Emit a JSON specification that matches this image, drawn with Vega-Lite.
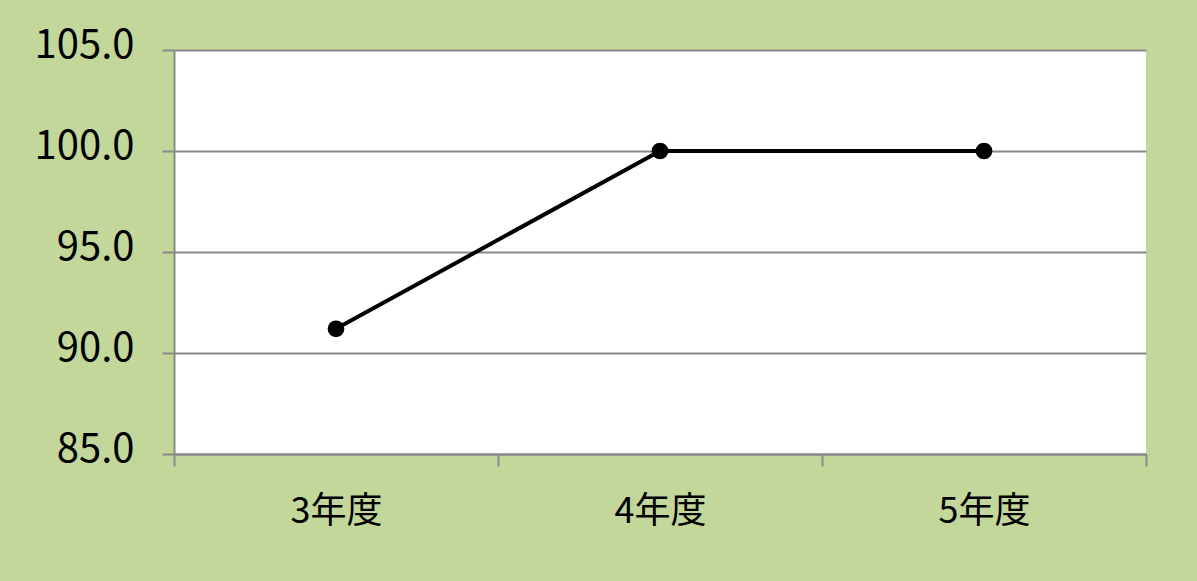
{
  "$schema": "https://vega.github.io/schema/vega-lite/v6.json",
  "autosize": "none",
  "width": 972,
  "height": 404,
  "padding": {"left": 174, "top": 50, "right": 51, "bottom": 127},
  "background": "#c4d79b",
  "config": {
    "view": {"fill": "white", "stroke": null},
    "font": "Noto Sans CJK JP"
  },
  "data": {
    "values": [
      {"year": "3年度", "value": 91.2},
      {"year": "4年度", "value": 100.0},
      {"year": "5年度", "value": 100.0}
    ]
  },
  "mark": {
    "type": "line",
    "color": "black",
    "strokeWidth": 4,
    "point": {"filled": true, "color": "black", "size": 280, "opacity": 1}
  },
  "encoding": {
    "x": {
      "field": "year",
      "type": "ordinal",
      "sort": null,
      "scale": {"type": "band", "paddingInner": 0, "paddingOuter": 0},
      "axis": {
        "title": null,
        "labelAngle": 0,
        "labelFont": "Noto Sans CJK JP",
        "labelFontSize": 36,
        "labelColor": "black",
        "labelPadding": 28,
        "tickBand": "extent",
        "tickSize": 12,
        "tickWidth": 2,
        "tickColor": "#898989",
        "domainColor": "#898989",
        "domainWidth": 2,
        "grid": false
      }
    },
    "y": {
      "field": "value",
      "type": "quantitative",
      "scale": {"domain": [85, 105], "nice": false, "zero": false},
      "axis": {
        "title": null,
        "values": [85, 90, 95, 100, 105],
        "format": ".1f",
        "labelFont": "Noto Sans CJK JP",
        "labelFontSize": 40,
        "labelColor": "black",
        "labelPadding": 28,
        "labelOffset": -5,
        "tickSize": 12,
        "tickWidth": 2,
        "tickColor": "#898989",
        "domainColor": "#898989",
        "domainWidth": 2,
        "gridColor": "#898989",
        "gridWidth": 2,
        "gridOpacity": 1
      }
    }
  }
}
